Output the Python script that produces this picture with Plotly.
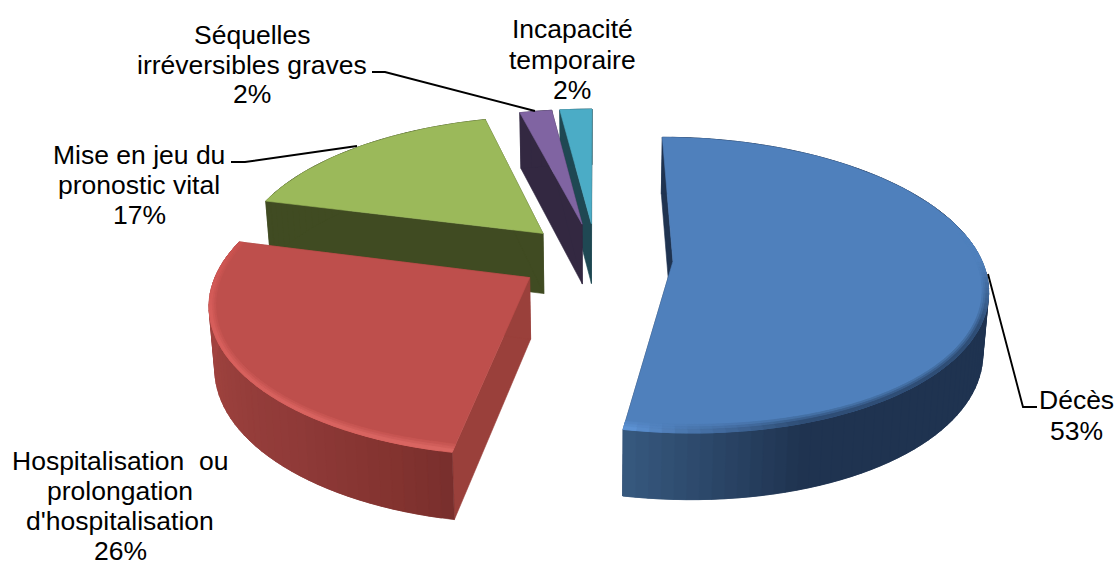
import numpy as np
import plotly.graph_objects as go

# Chart data
categories = ["Décès", "Hospitalisation ou prolongation d'hospitalisation",
              "Mise en jeu du pronostic vital", "Séquelles irréversibles graves",
              "Incapacité temporaire"]
values = [53, 26, 17, 2, 2]
label_lines = [
    ["Décès"],
    ["Hospitalisation\u00a0 ou", "prolongation", "d'hospitalisation"],
    ["Mise en jeu du", "pronostic vital"],
    ["Séquelles", "irréversibles graves"],
    ["Incapacité", "temporaire"],
]

# Per-slice styling
top_colors = ["#4f80bc", "#be4f4c", "#9bb95a", "#8064a2", "#4bacc6"]
radial_colors = ["#1f3350", "#9a403b", "#404b22", "#332841", "#1f4853"]
wall_stops = [
    [(0.0, "#1f3350"), (0.85, "#1f3350"), (1.0, "#37597f")],
    [(0.0, "#782e2d"), (0.1, "#83332f"), (0.3, "#8f3a38"), (0.6, "#9c413d"), (1.0, "#a74643")],
    [(0.0, "#404b22"), (1.0, "#404b22")],
    [(0.0, "#332841"), (1.0, "#332841")],
    [(0.0, "#1f4853"), (1.0, "#1f4853")],
]
rim_stops = [
    [(0.0, "#4f80bc"), (0.47, "#4f80bc"), (0.6, "#2f4e76"), (0.85, "#2f4e76"), (0.95, "#4a76ad"), (1.0, "#5f95d8")],
    [(0.0, "#d96662"), (0.7, "#d65e5b"), (1.0, "#c9524f")],
    None, None, None,
]

# Label placement: line centres and leader paths, in page pixels
label_anchor = [(1076, 400), (120, 461), (139, 155), (252, 35), (572, 29)]
label_steps = [31, 30, 30, 29.5, 30.5]
leaders = [
    ([988, 1023, 1037], [274, 407, 407]),
    None,
    ([231, 245, 357], [162, 162, 146]),
    ([372, 385, 535], [72, 72, 111]),
    None,
]

# Projection of the tilted pie onto the page
CX, CY = 596, 258
RX, RY = 308, 143
PERSP = 0.16
EXPLODE = 0.25
THICK = 61
SHRINK = 0.015
FRONT_SKEW = 4.5
STEP_DEG = 2.0
RIM_PX = 6.0

FONT = dict(family="Liberation Sans, Arial, sans-serif", size=26.5, color="#000000")


def project(x, y, z=0.0):
    s = 1.0 / (1.0 - PERSP * y)
    sx = CX + RX * x * s + FRONT_SKEW * max(y, 0.0) ** 2
    sy = CY + RY * y * s + z * THICK * np.sqrt(s)
    return CX + (sx - CX) * (1.0 - SHRINK * z), sy


def hex_rgb(c):
    return np.array([int(c[i:i + 2], 16) for i in (1, 3, 5)], dtype=float)


def blend(stops, f):
    fs = [p for p, _ in stops]
    rgb = np.array([hex_rgb(c) for _, c in stops])
    return tuple(float(np.interp(f, fs, rgb[:, k])) for k in range(3))


def css(rgb):
    return "rgb({:.0f},{:.0f},{:.0f})".format(*rgb)


def add_poly(fig, pts, color):
    xs = [float(p[0]) for p in pts]
    ys = [float(p[1]) for p in pts]
    fig.add_trace(go.Scatter(
        x=xs + xs[:1], y=ys + ys[:1], mode="lines", fill="toself",
        fillcolor=color, line=dict(color=color, width=0.6),
        hoverinfo="skip", showlegend=False))


def draw_slice(fig, i, start, end):
    mid = 0.5 * (start + end)
    ox, oy = EXPLODE * np.sin(mid), -EXPLODE * np.cos(mid)
    n = max(2, int(np.degrees(end - start) / STEP_DEG))
    angs = np.linspace(start, end, n + 1)

    def pt(a, r, z=0.0):
        return project(ox + r * np.sin(a), oy - r * np.cos(a), z)

    # Cut faces
    for a in (start, end):
        add_poly(fig, [pt(a, 0), pt(a, 1), pt(a, 1, 1), pt(a, 0, 1)], radial_colors[i])

    # Outer wall, shaded segment by segment; each quad runs under the next one
    for k in range(n):
        a0, a1 = angs[k], angs[min(k + 2, n)]
        f = (k + 0.5) / n
        add_poly(fig, [pt(a0, 1), pt(a1, 1), pt(a1, 1, 1), pt(a0, 1, 1)],
                 css(blend(wall_stops[i], f)))

    # Top face
    add_poly(fig, [pt(start, 0)] + [pt(a, 1) for a in angs], top_colors[i])

    # Rounded rim along the front of the top face, a few pixels wide on the page
    if rim_stops[i]:
        base = hex_rgb(top_colors[i])
        for w0, w1, w in ((1.0, 0.7, 0.33), (0.7, 0.4, 0.66), (0.4, 0.0, 1.0)):
            for k in range(n):
                a0, a1 = angs[k], angs[min(k + 2, n)]
                am = 0.5 * (angs[k] + angs[k + 1])
                if np.cos(am) > 0.2:
                    continue
                dr = RIM_PX / np.hypot(RX * np.sin(am), RY * np.cos(am))
                f = (k + 0.5) / n
                col = base + w * (np.array(blend(rim_stops[i], f)) - base)
                add_poly(fig, [pt(a0, 1 - w0 * dr), pt(a1, 1 - w0 * dr),
                               pt(a1, 1 - w1 * dr), pt(a0, 1 - w1 * dr)], css(col))


fig = go.Figure()

fractions = np.array(values, dtype=float) / float(sum(values))
edges = np.concatenate([[0.0], np.cumsum(fractions)]) * 2 * np.pi

# Painter's order: farthest slices first
for i in [4, 3, 2, 1, 0]:
    draw_slice(fig, i, edges[i], edges[i + 1])

for path in leaders:
    if path:
        fig.add_trace(go.Scatter(x=path[0], y=path[1], mode="lines",
                                 line=dict(color="#000000", width=1.9),
                                 hoverinfo="skip", showlegend=False))

annotations = []
for lines, v, (ax, ay), dy in zip(label_lines, values, label_anchor, label_steps):
    for j, txt in enumerate(lines + [f"{v}%"]):
        annotations.append(dict(x=ax, y=ay + j * dy, text=txt, showarrow=False,
                                xref="x", yref="y", xanchor="center", yanchor="middle",
                                font=FONT))

fig.update_layout(
    width=1117, height=563, margin=dict(l=0, r=0, t=0, b=0),
    paper_bgcolor="#ffffff", plot_bgcolor="#ffffff", showlegend=False,
    annotations=annotations,
    xaxis=dict(range=[0, 1117], visible=False, fixedrange=True),
    yaxis=dict(range=[563, 0], visible=False, fixedrange=True),
)
fig.write_html("out.html")
